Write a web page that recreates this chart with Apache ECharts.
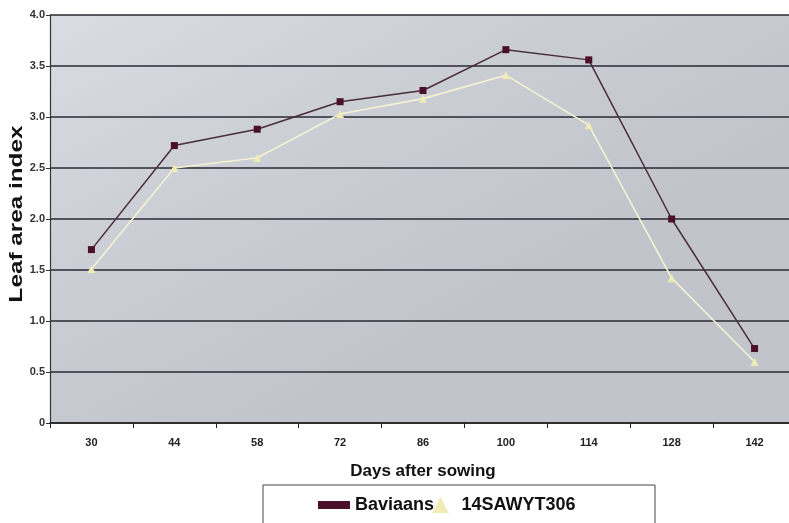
<!DOCTYPE html>
<html>
<head>
<meta charset="utf-8">
<script src="https://cdn.jsdelivr.net/npm/echarts@6/dist/echarts.min.js"></script>
<style>html,body{margin:0;padding:0;background:#fff;}#c{width:789px;height:523px;}</style>
</head>
<body>
<div id="c"></div>
<script>
const categories = ['30', '44', '58', '72', '86', '100', '114', '128', '142'];
const baviaans = [1.70, 2.72, 2.88, 3.15, 3.26, 3.66, 3.56, 2.00, 0.73];
const sawyt306 = [1.51, 2.50, 2.60, 3.03, 3.18, 3.41, 2.92, 1.42, 0.60];
const seriesNames = ['Baviaans', '14SAWYT306'];
const xTitle = 'Days after sowing';
const yTitle = 'Leaf area index';

const chart = echarts.init(document.getElementById('c'), null, {renderer: 'canvas'});
const font = 'Liberation Sans, Arial, sans-serif';
chart.setOption({
  animation: false,
  backgroundColor: '#ffffff',
  grid: {
    left: 50, right: -7, top: 15, bottom: 100,
    containLabel: false,
    outerBoundsMode: 'none',
    show: true,
    borderWidth: 0,
    backgroundColor: {
      type: 'linear', x: 0, y: 0, x2: 0.3, y2: 1,
      colorStops: [
        {offset: 0, color: '#d9dce2'},
        {offset: 0.5, color: '#cbced5'},
        {offset: 1, color: '#c1c4cb'}
      ]
    }
  },
  xAxis: {
    type: 'category',
    data: categories,
    boundaryGap: true,
    name: xTitle,
    nameLocation: 'middle',
    nameGap: 40,
    nameTextStyle: {fontFamily: font, fontWeight: 'bold', fontSize: 17, color: '#111'},
    axisLine: {lineStyle: {color: '#222', width: 1.5}},
    axisTick: {show: true, length: 5, lineStyle: {color: '#222'}},
    axisLabel: {fontFamily: font, fontSize: 11, fontWeight: 'bold', color: '#222', margin: 14}
  },
  yAxis: {
    type: 'value',
    min: 0, max: 4, interval: 0.5,
    axisLine: {show: true, lineStyle: {color: '#333', width: 1.2}},
    axisTick: {show: true, length: 4, lineStyle: {color: '#333'}},
    axisLabel: {
      fontFamily: font, fontSize: 11, fontWeight: 'bold', color: '#333', margin: 5,
      formatter: v => v === 0 ? '0' : v.toFixed(1)
    },
    splitLine: {show: true, lineStyle: {color: '#2a2a33', width: 1.5}}
  },
  legend: {
    data: [
      {name: seriesNames[0], icon: 'path://M0,4 L32,4 L32,12 L0,12 Z'},
      {name: seriesNames[1], icon: 'path://M9,0 L18,17 L0,17 Z'}
    ],
    left: 313, top: 491,
    itemWidth: 32, itemHeight: 16, itemGap: -2,
    textStyle: {fontFamily: font, fontSize: 18, fontWeight: 'bold', color: '#111'}
  },
  graphic: [
    {
      type: 'rect',
      shape: {x: 263, y: 485, width: 392, height: 40},
      style: {fill: 'none', stroke: '#444', lineWidth: 1},
      z: -1
    },
    {
      type: 'text',
      x: 17, y: 214,
      rotation: Math.PI / 2,
      scaleX: 1.35,
      style: {
        text: yTitle,
        font: 'bold 18px ' + font,
        fill: '#111',
        align: 'center',
        verticalAlign: 'middle'
      }
    }
  ],
  series: [
    {
      name: seriesNames[0], type: 'line', data: baviaans,
      symbol: 'rect', symbolSize: 7,
      lineStyle: {color: '#4a2c3c', width: 1.5},
      itemStyle: {color: '#4a0f2a'},
      z: 3
    },
    {
      name: seriesNames[1], type: 'line', data: sawyt306,
      symbol: 'triangle', symbolSize: 8,
      lineStyle: {color: '#f6f3d2', width: 1.6},
      itemStyle: {color: '#f0ecb8'},
      z: 2
    }
  ]
});
</script>
</body>
</html>
